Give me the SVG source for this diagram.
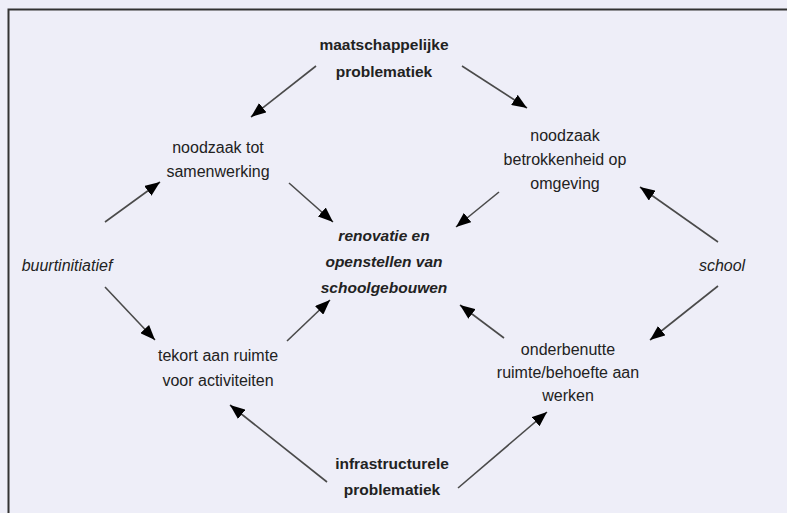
<svg xmlns="http://www.w3.org/2000/svg" width="787" height="513" viewBox="0 0 787 513">
<style>
  text { font-family: "Liberation Sans", Arial, sans-serif; font-size: 16px; fill: #222; text-anchor: middle; }
  .b { font-weight: bold; font-size: 15.5px; }
  .bi { font-weight: bold; font-style: italic; font-size: 15.5px; }
  .i { font-style: italic; }
  .conn line { stroke: #4a4a4a; stroke-width: 1.6; marker-end: url(#ah); }
</style>
<defs>
  <marker id="ah" markerUnits="userSpaceOnUse" markerWidth="16" markerHeight="12" refX="15" refY="6" orient="auto">
    <path d="M0,0 L15,6 L0,12 Z" fill="#000"/>
  </marker>
</defs>
<rect width="787" height="513" fill="#EEEEF8"/>
<path d="M8.5,513 L8.5,9.5 L787,9.5" fill="none" stroke="#333" stroke-width="2"/>
<g id="connectors" class="conn">
  <line x1="316" y1="66" x2="251" y2="117"/>
  <line x1="462" y1="66" x2="527" y2="108"/>
  <line x1="289" y1="183" x2="333" y2="222"/>
  <line x1="499" y1="192" x2="456" y2="227"/>
  <line x1="105" y1="222" x2="160" y2="182"/>
  <line x1="718" y1="242" x2="640" y2="187"/>
  <line x1="105" y1="287" x2="155" y2="340"/>
  <line x1="287" y1="341" x2="330" y2="300"/>
  <line x1="504" y1="338" x2="460" y2="305"/>
  <line x1="718" y1="286" x2="650" y2="340"/>
  <line x1="327" y1="482" x2="230" y2="405"/>
  <line x1="458" y1="488" x2="547" y2="412"/>
</g>
<g id="maatschappelijke">
  <text class="b" x="384" y="50">maatschappelijke</text>
  <text class="b" x="384" y="77">problematiek</text>
</g>
<g id="noodzaak-samenwerking">
  <text x="218" y="153">noodzaak tot</text>
  <text x="218" y="177">samenwerking</text>
</g>
<g id="noodzaak-betrokkenheid">
  <text x="565" y="141">noodzaak</text>
  <text x="565" y="165">betrokkenheid op</text>
  <text x="565" y="189">omgeving</text>
</g>
<g id="renovatie">
  <text class="bi" x="384" y="241">renovatie en</text>
  <text class="bi" x="384" y="267">openstellen van</text>
  <text class="bi" x="384" y="293">schoolgebouwen</text>
</g>
<g id="buurtinitiatief">
  <text class="i" x="67" y="271">buurtinitiatief</text>
</g>
<g id="school">
  <text class="i" x="722" y="271">school</text>
</g>
<g id="tekort">
  <text x="218" y="361">tekort aan ruimte</text>
  <text x="218" y="386">voor activiteiten</text>
</g>
<g id="onderbenutte">
  <text x="568" y="355">onderbenutte</text>
  <text x="568" y="378">ruimte/behoefte aan</text>
  <text x="568" y="401">werken</text>
</g>
<g id="infrastructurele">
  <text class="b" x="392" y="469">infrastructurele</text>
  <text class="b" x="392" y="495">problematiek</text>
</g>
</svg>
